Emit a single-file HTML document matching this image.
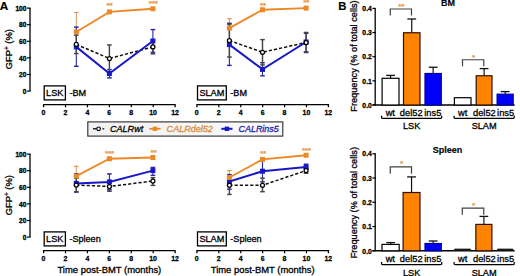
<!DOCTYPE html>
<html><head><meta charset="utf-8"><style>
html,body{margin:0;padding:0;background:#fff;overflow:hidden;width:520px;height:276px;}
svg{display:block;font-family:"Liberation Sans", sans-serif;}
</style></head><body>
<svg width="520" height="276" viewBox="0 0 520 276"  font-family='"Liberation Sans", sans-serif'>
<rect width="520" height="276" fill="#fff"/>
<text x="-0.3" y="10.1" font-size="11.8" font-weight="bold" font-style="normal" text-anchor="start" fill="#000"  stroke="#000" stroke-width="0.15">A</text>
<path d="M30,8.1 V91.1" stroke="#000" stroke-width="1.3" fill="none"/>
<line x1="27" y1="91.1" x2="30.6" y2="91.1" stroke="#000" stroke-width="1.2" />
<text transform="translate(26.4,93.85) scale(0.87,1)" font-size="7.6" font-weight="bold" text-anchor="end" fill="#000" stroke="#000" stroke-width="0.35">0</text>
<line x1="27" y1="74.5" x2="30.6" y2="74.5" stroke="#000" stroke-width="1.2" />
<text transform="translate(26.4,77.25) scale(0.87,1)" font-size="7.6" font-weight="bold" text-anchor="end" fill="#000" stroke="#000" stroke-width="0.35">20</text>
<line x1="27" y1="57.90" x2="30.6" y2="57.90" stroke="#000" stroke-width="1.2" />
<text transform="translate(26.4,60.65) scale(0.87,1)" font-size="7.6" font-weight="bold" text-anchor="end" fill="#000" stroke="#000" stroke-width="0.35">40</text>
<line x1="27" y1="41.3" x2="30.6" y2="41.3" stroke="#000" stroke-width="1.2" />
<text transform="translate(26.4,44.05) scale(0.87,1)" font-size="7.6" font-weight="bold" text-anchor="end" fill="#000" stroke="#000" stroke-width="0.35">60</text>
<line x1="27" y1="24.70" x2="30.6" y2="24.70" stroke="#000" stroke-width="1.2" />
<text transform="translate(26.4,27.45) scale(0.87,1)" font-size="7.6" font-weight="bold" text-anchor="end" fill="#000" stroke="#000" stroke-width="0.35">80</text>
<line x1="27" y1="8.10" x2="30.6" y2="8.10" stroke="#000" stroke-width="1.2" />
<text transform="translate(26.4,10.85) scale(0.87,1)" font-size="7.6" font-weight="bold" text-anchor="end" fill="#000" stroke="#000" stroke-width="0.35">100</text>
<text transform="translate(12.4,49.20) rotate(-90)" font-size="9.4" stroke="#000" stroke-width="0.3" text-anchor="middle">GFP<tspan font-size="6.5" dy="-3.4">+</tspan><tspan dy="3.4"> (%)</tspan></text>
<path d="M30,154.1 V237.1" stroke="#000" stroke-width="1.3" fill="none"/>
<line x1="27" y1="237.1" x2="30.6" y2="237.1" stroke="#000" stroke-width="1.2" />
<text transform="translate(26.4,239.85) scale(0.87,1)" font-size="7.6" font-weight="bold" text-anchor="end" fill="#000" stroke="#000" stroke-width="0.35">0</text>
<line x1="27" y1="220.5" x2="30.6" y2="220.5" stroke="#000" stroke-width="1.2" />
<text transform="translate(26.4,223.25) scale(0.87,1)" font-size="7.6" font-weight="bold" text-anchor="end" fill="#000" stroke="#000" stroke-width="0.35">20</text>
<line x1="27" y1="203.90" x2="30.6" y2="203.90" stroke="#000" stroke-width="1.2" />
<text transform="translate(26.4,206.65) scale(0.87,1)" font-size="7.6" font-weight="bold" text-anchor="end" fill="#000" stroke="#000" stroke-width="0.35">40</text>
<line x1="27" y1="187.3" x2="30.6" y2="187.3" stroke="#000" stroke-width="1.2" />
<text transform="translate(26.4,190.05) scale(0.87,1)" font-size="7.6" font-weight="bold" text-anchor="end" fill="#000" stroke="#000" stroke-width="0.35">60</text>
<line x1="27" y1="170.7" x2="30.6" y2="170.7" stroke="#000" stroke-width="1.2" />
<text transform="translate(26.4,173.45) scale(0.87,1)" font-size="7.6" font-weight="bold" text-anchor="end" fill="#000" stroke="#000" stroke-width="0.35">80</text>
<line x1="27" y1="154.1" x2="30.6" y2="154.1" stroke="#000" stroke-width="1.2" />
<text transform="translate(26.4,156.85) scale(0.87,1)" font-size="7.6" font-weight="bold" text-anchor="end" fill="#000" stroke="#000" stroke-width="0.35">100</text>
<text transform="translate(12.4,195.20) rotate(-90)" font-size="9.4" stroke="#000" stroke-width="0.3" text-anchor="middle">GFP<tspan font-size="6.5" dy="-3.4">+</tspan><tspan dy="3.4"> (%)</tspan></text>
<path d="M43.6,107.3 V104.7 H175.12 V107.3" stroke="#000" stroke-width="1.3" fill="none"/>
<line x1="65.52" y1="104.7" x2="65.52" y2="107.3" stroke="#000" stroke-width="1.2" />
<line x1="87.44" y1="104.7" x2="87.44" y2="107.3" stroke="#000" stroke-width="1.2" />
<line x1="109.36" y1="104.7" x2="109.36" y2="107.3" stroke="#000" stroke-width="1.2" />
<line x1="131.28" y1="104.7" x2="131.28" y2="107.3" stroke="#000" stroke-width="1.2" />
<line x1="153.20" y1="104.7" x2="153.20" y2="107.3" stroke="#000" stroke-width="1.2" />
<text transform="translate(43.50,114.90) scale(0.86,1)" font-size="8.1" font-weight="bold" text-anchor="middle" fill="#000" stroke="#000" stroke-width="0.3">0</text>
<text transform="translate(65.42,114.90) scale(0.86,1)" font-size="8.1" font-weight="bold" text-anchor="middle" fill="#000" stroke="#000" stroke-width="0.3">2</text>
<text transform="translate(87.34,114.90) scale(0.86,1)" font-size="8.1" font-weight="bold" text-anchor="middle" fill="#000" stroke="#000" stroke-width="0.3">4</text>
<text transform="translate(109.26,114.90) scale(0.86,1)" font-size="8.1" font-weight="bold" text-anchor="middle" fill="#000" stroke="#000" stroke-width="0.3">6</text>
<text transform="translate(131.18,114.90) scale(0.86,1)" font-size="8.1" font-weight="bold" text-anchor="middle" fill="#000" stroke="#000" stroke-width="0.3">8</text>
<text transform="translate(153.10,114.90) scale(0.86,1)" font-size="8.1" font-weight="bold" text-anchor="middle" fill="#000" stroke="#000" stroke-width="0.3">10</text>
<text transform="translate(175.02,114.90) scale(0.86,1)" font-size="8.1" font-weight="bold" text-anchor="middle" fill="#000" stroke="#000" stroke-width="0.3">12</text>
<path d="M196.9,107.3 V104.7 H328.42 V107.3" stroke="#000" stroke-width="1.3" fill="none"/>
<line x1="218.82" y1="104.7" x2="218.82" y2="107.3" stroke="#000" stroke-width="1.2" />
<line x1="240.74" y1="104.7" x2="240.74" y2="107.3" stroke="#000" stroke-width="1.2" />
<line x1="262.66" y1="104.7" x2="262.66" y2="107.3" stroke="#000" stroke-width="1.2" />
<line x1="284.58" y1="104.7" x2="284.58" y2="107.3" stroke="#000" stroke-width="1.2" />
<line x1="306.5" y1="104.7" x2="306.5" y2="107.3" stroke="#000" stroke-width="1.2" />
<text transform="translate(196.80,114.90) scale(0.86,1)" font-size="8.1" font-weight="bold" text-anchor="middle" fill="#000" stroke="#000" stroke-width="0.3">0</text>
<text transform="translate(218.72,114.90) scale(0.86,1)" font-size="8.1" font-weight="bold" text-anchor="middle" fill="#000" stroke="#000" stroke-width="0.3">2</text>
<text transform="translate(240.64,114.90) scale(0.86,1)" font-size="8.1" font-weight="bold" text-anchor="middle" fill="#000" stroke="#000" stroke-width="0.3">4</text>
<text transform="translate(262.56,114.90) scale(0.86,1)" font-size="8.1" font-weight="bold" text-anchor="middle" fill="#000" stroke="#000" stroke-width="0.3">6</text>
<text transform="translate(284.48,114.90) scale(0.86,1)" font-size="8.1" font-weight="bold" text-anchor="middle" fill="#000" stroke="#000" stroke-width="0.3">8</text>
<text transform="translate(306.40,114.90) scale(0.86,1)" font-size="8.1" font-weight="bold" text-anchor="middle" fill="#000" stroke="#000" stroke-width="0.3">10</text>
<text transform="translate(328.32,114.90) scale(0.86,1)" font-size="8.1" font-weight="bold" text-anchor="middle" fill="#000" stroke="#000" stroke-width="0.3">12</text>
<path d="M43.6,253.30 V250.7 H175.12 V253.30" stroke="#000" stroke-width="1.3" fill="none"/>
<line x1="65.52" y1="250.7" x2="65.52" y2="253.30" stroke="#000" stroke-width="1.2" />
<line x1="87.44" y1="250.7" x2="87.44" y2="253.30" stroke="#000" stroke-width="1.2" />
<line x1="109.36" y1="250.7" x2="109.36" y2="253.30" stroke="#000" stroke-width="1.2" />
<line x1="131.28" y1="250.7" x2="131.28" y2="253.30" stroke="#000" stroke-width="1.2" />
<line x1="153.20" y1="250.7" x2="153.20" y2="253.30" stroke="#000" stroke-width="1.2" />
<text transform="translate(43.50,260.90) scale(0.86,1)" font-size="8.1" font-weight="bold" text-anchor="middle" fill="#000" stroke="#000" stroke-width="0.3">0</text>
<text transform="translate(65.42,260.90) scale(0.86,1)" font-size="8.1" font-weight="bold" text-anchor="middle" fill="#000" stroke="#000" stroke-width="0.3">2</text>
<text transform="translate(87.34,260.90) scale(0.86,1)" font-size="8.1" font-weight="bold" text-anchor="middle" fill="#000" stroke="#000" stroke-width="0.3">4</text>
<text transform="translate(109.26,260.90) scale(0.86,1)" font-size="8.1" font-weight="bold" text-anchor="middle" fill="#000" stroke="#000" stroke-width="0.3">6</text>
<text transform="translate(131.18,260.90) scale(0.86,1)" font-size="8.1" font-weight="bold" text-anchor="middle" fill="#000" stroke="#000" stroke-width="0.3">8</text>
<text transform="translate(153.10,260.90) scale(0.86,1)" font-size="8.1" font-weight="bold" text-anchor="middle" fill="#000" stroke="#000" stroke-width="0.3">10</text>
<text transform="translate(175.02,260.90) scale(0.86,1)" font-size="8.1" font-weight="bold" text-anchor="middle" fill="#000" stroke="#000" stroke-width="0.3">12</text>
<text x="109.36" y="272.7" font-size="9.45" font-weight="normal" font-style="normal" text-anchor="middle" fill="#000"  stroke="#000" stroke-width="0.3">Time post-BMT (months)</text>
<path d="M196.9,253.30 V250.7 H328.42 V253.30" stroke="#000" stroke-width="1.3" fill="none"/>
<line x1="218.82" y1="250.7" x2="218.82" y2="253.30" stroke="#000" stroke-width="1.2" />
<line x1="240.74" y1="250.7" x2="240.74" y2="253.30" stroke="#000" stroke-width="1.2" />
<line x1="262.66" y1="250.7" x2="262.66" y2="253.30" stroke="#000" stroke-width="1.2" />
<line x1="284.58" y1="250.7" x2="284.58" y2="253.30" stroke="#000" stroke-width="1.2" />
<line x1="306.5" y1="250.7" x2="306.5" y2="253.30" stroke="#000" stroke-width="1.2" />
<text transform="translate(196.80,260.90) scale(0.86,1)" font-size="8.1" font-weight="bold" text-anchor="middle" fill="#000" stroke="#000" stroke-width="0.3">0</text>
<text transform="translate(218.72,260.90) scale(0.86,1)" font-size="8.1" font-weight="bold" text-anchor="middle" fill="#000" stroke="#000" stroke-width="0.3">2</text>
<text transform="translate(240.64,260.90) scale(0.86,1)" font-size="8.1" font-weight="bold" text-anchor="middle" fill="#000" stroke="#000" stroke-width="0.3">4</text>
<text transform="translate(262.56,260.90) scale(0.86,1)" font-size="8.1" font-weight="bold" text-anchor="middle" fill="#000" stroke="#000" stroke-width="0.3">6</text>
<text transform="translate(284.48,260.90) scale(0.86,1)" font-size="8.1" font-weight="bold" text-anchor="middle" fill="#000" stroke="#000" stroke-width="0.3">8</text>
<text transform="translate(306.40,260.90) scale(0.86,1)" font-size="8.1" font-weight="bold" text-anchor="middle" fill="#000" stroke="#000" stroke-width="0.3">10</text>
<text transform="translate(328.32,260.90) scale(0.86,1)" font-size="8.1" font-weight="bold" text-anchor="middle" fill="#000" stroke="#000" stroke-width="0.3">12</text>
<text x="262.66" y="272.7" font-size="9.45" font-weight="normal" font-style="normal" text-anchor="middle" fill="#000"  stroke="#000" stroke-width="0.3">Time post-BMT (months)</text>
<rect x="44.2" y="85.9" width="21.2" height="14" fill="#fff" stroke="#000" stroke-width="1.3"/>
<text x="54.80" y="96.4" font-size="9.2" font-weight="normal" font-style="normal" text-anchor="middle" fill="#000"  stroke="#000" stroke-width="0.3">LSK</text>
<text x="69.40" y="96.4" font-size="9.1" font-weight="normal" font-style="normal" text-anchor="start" fill="#000"  stroke="#000" stroke-width="0.3">-BM</text>
<rect x="197.5" y="85.9" width="28.8" height="14" fill="#fff" stroke="#000" stroke-width="1.3"/>
<text x="211.9" y="96.4" font-size="9.2" font-weight="normal" font-style="normal" text-anchor="middle" fill="#000"  stroke="#000" stroke-width="0.3">SLAM</text>
<text x="230.3" y="96.4" font-size="9.1" font-weight="normal" font-style="normal" text-anchor="start" fill="#000"  stroke="#000" stroke-width="0.3">-BM</text>
<rect x="44.2" y="231.9" width="21.2" height="14" fill="#fff" stroke="#000" stroke-width="1.3"/>
<text x="54.80" y="242.4" font-size="9.2" font-weight="normal" font-style="normal" text-anchor="middle" fill="#000"  stroke="#000" stroke-width="0.3">LSK</text>
<text x="69.40" y="242.4" font-size="9.1" font-weight="normal" font-style="normal" text-anchor="start" fill="#000"  stroke="#000" stroke-width="0.3">-Spleen</text>
<rect x="197.5" y="231.9" width="28.8" height="14" fill="#fff" stroke="#000" stroke-width="1.3"/>
<text x="211.9" y="242.4" font-size="9.2" font-weight="normal" font-style="normal" text-anchor="middle" fill="#000"  stroke="#000" stroke-width="0.3">SLAM</text>
<text x="230.3" y="242.4" font-size="9.1" font-weight="normal" font-style="normal" text-anchor="start" fill="#000"  stroke="#000" stroke-width="0.3">-Spleen</text>
<line x1="76.3" y1="12.5" x2="76.3" y2="31.9" stroke="#D99050" stroke-width="1.0" />
<line x1="74.0" y1="12.5" x2="78.6" y2="12.5" stroke="#D99050" stroke-width="1.1" />
<line x1="76.3" y1="26.9" x2="76.3" y2="66.5" stroke="#2828A8" stroke-width="1.1" />
<line x1="74.0" y1="27.10" x2="78.6" y2="27.10" stroke="#2828A8" stroke-width="1.45" />
<line x1="74.0" y1="66.3" x2="78.6" y2="66.3" stroke="#2828A8" stroke-width="1.45" />
<line x1="109.4" y1="69.4" x2="109.4" y2="78.1" stroke="#2828A8" stroke-width="1.1" />
<line x1="107.10" y1="69.60" x2="111.7" y2="69.60" stroke="#2828A8" stroke-width="1.45" />
<line x1="107.10" y1="77.90" x2="111.7" y2="77.90" stroke="#2828A8" stroke-width="1.45" />
<line x1="152.9" y1="29.4" x2="152.9" y2="52.6" stroke="#2828A8" stroke-width="1.1" />
<line x1="150.6" y1="29.60" x2="155.20" y2="29.60" stroke="#2828A8" stroke-width="1.45" />
<line x1="150.6" y1="52.4" x2="155.20" y2="52.4" stroke="#2828A8" stroke-width="1.45" />
<line x1="76.3" y1="35" x2="76.3" y2="53.75" stroke="#454545" stroke-width="1.45" />
<line x1="74.0" y1="35.2" x2="78.6" y2="35.2" stroke="#454545" stroke-width="1.45" />
<line x1="74.0" y1="53.55" x2="78.6" y2="53.55" stroke="#454545" stroke-width="1.45" />
<line x1="109.4" y1="44.75" x2="109.4" y2="72.25" stroke="#454545" stroke-width="1.45" />
<line x1="107.10" y1="44.95" x2="111.7" y2="44.95" stroke="#454545" stroke-width="1.45" />
<line x1="107.10" y1="72.05" x2="111.7" y2="72.05" stroke="#454545" stroke-width="1.45" />
<line x1="152.9" y1="39.7" x2="152.9" y2="54.1" stroke="#454545" stroke-width="1.45" />
<line x1="150.6" y1="39.90" x2="155.20" y2="39.90" stroke="#454545" stroke-width="1.45" />
<line x1="150.6" y1="53.9" x2="155.20" y2="53.9" stroke="#454545" stroke-width="1.45" />
<path d="M76.3,44.4 L109.4,58.5 L152.9,46.9" stroke="#111" stroke-width="1.5" stroke-dasharray="3.2,2" fill="none"/>
<path d="M76.3,46.9 L109.4,73.5 L152.9,41.0" stroke="#1818C4" stroke-width="2.0" fill="none"/>
<path d="M76.3,31.9 L109.4,11.9 L152.9,8.75" stroke="#EC8826" stroke-width="1.8" fill="none"/>
<rect x="73.8" y="44.4" width="5" height="5" fill="#1818C4"/>
<rect x="106.9" y="71.0" width="5" height="5" fill="#1818C4"/>
<rect x="150.4" y="38.5" width="5" height="5" fill="#1818C4"/>
<rect x="73.8" y="29.4" width="5" height="5" fill="#EC8826"/>
<rect x="106.9" y="9.4" width="5" height="5" fill="#EC8826"/>
<rect x="150.4" y="6.25" width="5" height="5" fill="#EC8826"/>
<circle cx="76.3" cy="44.4" r="2.0" fill="#fff" stroke="#000" stroke-width="1.25"/>
<circle cx="109.4" cy="58.5" r="2.0" fill="#fff" stroke="#000" stroke-width="1.25"/>
<circle cx="152.9" cy="46.9" r="2.0" fill="#fff" stroke="#000" stroke-width="1.25"/>
<text x="109.4" y="8.32" font-size="8.1" font-weight="bold" font-style="normal" text-anchor="middle" fill="#E59845" letter-spacing="-0.15" stroke="#E59845" stroke-width="0.15">**</text>
<text x="153.2" y="5.72" font-size="8.1" font-weight="bold" font-style="normal" text-anchor="middle" fill="#E59845" letter-spacing="-0.15" stroke="#E59845" stroke-width="0.15">***</text>
<line x1="229.4" y1="18.75" x2="229.4" y2="28.1" stroke="#D99050" stroke-width="1.0" />
<line x1="227.1" y1="18.75" x2="231.70" y2="18.75" stroke="#D99050" stroke-width="1.1" />
<line x1="229.4" y1="23.1" x2="229.4" y2="65.6" stroke="#2828A8" stroke-width="1.1" />
<line x1="227.1" y1="23.3" x2="231.70" y2="23.3" stroke="#2828A8" stroke-width="1.45" />
<line x1="227.1" y1="65.40" x2="231.70" y2="65.40" stroke="#2828A8" stroke-width="1.45" />
<line x1="262.5" y1="62.5" x2="262.5" y2="76" stroke="#2828A8" stroke-width="1.1" />
<line x1="260.2" y1="62.7" x2="264.8" y2="62.7" stroke="#2828A8" stroke-width="1.45" />
<line x1="260.2" y1="75.8" x2="264.8" y2="75.8" stroke="#2828A8" stroke-width="1.45" />
<line x1="306.1" y1="33" x2="306.1" y2="52" stroke="#2828A8" stroke-width="1.1" />
<line x1="303.8" y1="33.2" x2="308.40" y2="33.2" stroke="#2828A8" stroke-width="1.45" />
<line x1="303.8" y1="51.8" x2="308.40" y2="51.8" stroke="#2828A8" stroke-width="1.45" />
<line x1="229.4" y1="24" x2="229.4" y2="57.25" stroke="#454545" stroke-width="1.45" />
<line x1="227.1" y1="24.2" x2="231.70" y2="24.2" stroke="#454545" stroke-width="1.45" />
<line x1="227.1" y1="57.05" x2="231.70" y2="57.05" stroke="#454545" stroke-width="1.45" />
<line x1="262.5" y1="39.4" x2="262.5" y2="65.1" stroke="#454545" stroke-width="1.45" />
<line x1="260.2" y1="39.6" x2="264.8" y2="39.6" stroke="#454545" stroke-width="1.45" />
<line x1="260.2" y1="64.90" x2="264.8" y2="64.90" stroke="#454545" stroke-width="1.45" />
<line x1="306.1" y1="32.25" x2="306.1" y2="52.75" stroke="#454545" stroke-width="1.45" />
<line x1="303.8" y1="32.45" x2="308.40" y2="32.45" stroke="#454545" stroke-width="1.45" />
<line x1="303.8" y1="52.55" x2="308.40" y2="52.55" stroke="#454545" stroke-width="1.45" />
<path d="M229.4,40.6 L262.5,52.25 L306.1,42.5" stroke="#111" stroke-width="1.5" stroke-dasharray="3.2,2" fill="none"/>
<path d="M229.4,44.6 L262.5,69.4 L306.1,42.0" stroke="#1818C4" stroke-width="2.0" fill="none"/>
<path d="M229.4,28.1 L262.5,9.75 L306.1,8.1" stroke="#EC8826" stroke-width="1.8" fill="none"/>
<rect x="226.9" y="42.1" width="5" height="5" fill="#1818C4"/>
<rect x="260.0" y="66.9" width="5" height="5" fill="#1818C4"/>
<rect x="303.6" y="39.5" width="5" height="5" fill="#1818C4"/>
<rect x="226.9" y="25.6" width="5" height="5" fill="#EC8826"/>
<rect x="260.0" y="7.25" width="5" height="5" fill="#EC8826"/>
<rect x="303.6" y="5.6" width="5" height="5" fill="#EC8826"/>
<circle cx="229.4" cy="40.6" r="2.0" fill="#fff" stroke="#000" stroke-width="1.25"/>
<circle cx="262.5" cy="52.25" r="2.0" fill="#fff" stroke="#000" stroke-width="1.25"/>
<circle cx="306.1" cy="42.5" r="2.0" fill="#fff" stroke="#000" stroke-width="1.25"/>
<text x="262.9" y="7.62" font-size="8.1" font-weight="bold" font-style="normal" text-anchor="middle" fill="#E59845" letter-spacing="-0.15" stroke="#E59845" stroke-width="0.15">**</text>
<text x="306.2" y="4.97" font-size="8.1" font-weight="bold" font-style="normal" text-anchor="middle" fill="#E59845" letter-spacing="-0.15" stroke="#E59845" stroke-width="0.15">**</text>
<line x1="76.3" y1="166.25" x2="76.3" y2="176.1" stroke="#D99050" stroke-width="1.0" />
<line x1="74.0" y1="166.25" x2="78.6" y2="166.25" stroke="#D99050" stroke-width="1.1" />
<line x1="76.3" y1="173.5" x2="76.3" y2="192.25" stroke="#2828A8" stroke-width="1.1" />
<line x1="74.0" y1="173.7" x2="78.6" y2="173.7" stroke="#2828A8" stroke-width="1.45" />
<line x1="74.0" y1="192.05" x2="78.6" y2="192.05" stroke="#2828A8" stroke-width="1.45" />
<line x1="109.4" y1="173.75" x2="109.4" y2="190" stroke="#2828A8" stroke-width="1.1" />
<line x1="107.10" y1="173.95" x2="111.7" y2="173.95" stroke="#2828A8" stroke-width="1.45" />
<line x1="107.10" y1="189.8" x2="111.7" y2="189.8" stroke="#2828A8" stroke-width="1.45" />
<line x1="152.9" y1="167.25" x2="152.9" y2="175.6" stroke="#2828A8" stroke-width="1.1" />
<line x1="150.6" y1="167.45" x2="155.20" y2="167.45" stroke="#2828A8" stroke-width="1.45" />
<line x1="150.6" y1="175.4" x2="155.20" y2="175.4" stroke="#2828A8" stroke-width="1.45" />
<line x1="76.3" y1="178" x2="76.3" y2="192" stroke="#454545" stroke-width="1.45" />
<line x1="74.0" y1="178.2" x2="78.6" y2="178.2" stroke="#454545" stroke-width="1.45" />
<line x1="74.0" y1="191.8" x2="78.6" y2="191.8" stroke="#454545" stroke-width="1.45" />
<line x1="109.4" y1="181.5" x2="109.4" y2="191.5" stroke="#454545" stroke-width="1.45" />
<line x1="107.10" y1="181.7" x2="111.7" y2="181.7" stroke="#454545" stroke-width="1.45" />
<line x1="107.10" y1="191.3" x2="111.7" y2="191.3" stroke="#454545" stroke-width="1.45" />
<line x1="152.9" y1="177.5" x2="152.9" y2="185.6" stroke="#454545" stroke-width="1.45" />
<line x1="150.6" y1="177.7" x2="155.20" y2="177.7" stroke="#454545" stroke-width="1.45" />
<line x1="150.6" y1="185.4" x2="155.20" y2="185.4" stroke="#454545" stroke-width="1.45" />
<path d="M76.3,185 L109.4,186.5 L152.9,181" stroke="#111" stroke-width="1.5" stroke-dasharray="3.2,2" fill="none"/>
<path d="M76.3,183.4 L109.4,181.9 L152.9,170.6" stroke="#1818C4" stroke-width="2.0" fill="none"/>
<path d="M76.3,176.1 L109.4,158.75 L152.9,157.5" stroke="#EC8826" stroke-width="1.8" fill="none"/>
<rect x="73.8" y="180.9" width="5" height="5" fill="#1818C4"/>
<rect x="106.9" y="179.4" width="5" height="5" fill="#1818C4"/>
<rect x="150.4" y="168.1" width="5" height="5" fill="#1818C4"/>
<rect x="73.8" y="173.6" width="5" height="5" fill="#EC8826"/>
<rect x="106.9" y="156.25" width="5" height="5" fill="#EC8826"/>
<rect x="150.4" y="155.0" width="5" height="5" fill="#EC8826"/>
<circle cx="76.3" cy="185" r="2.0" fill="#fff" stroke="#000" stroke-width="1.25"/>
<circle cx="109.4" cy="186.5" r="2.0" fill="#fff" stroke="#000" stroke-width="1.25"/>
<circle cx="152.9" cy="181" r="2.0" fill="#fff" stroke="#000" stroke-width="1.25"/>
<text x="109.5" y="156.42" font-size="8.1" font-weight="bold" font-style="normal" text-anchor="middle" fill="#E59845" letter-spacing="-0.15" stroke="#E59845" stroke-width="0.15">***</text>
<text x="153.5" y="154.97" font-size="8.1" font-weight="bold" font-style="normal" text-anchor="middle" fill="#E59845" letter-spacing="-0.15" stroke="#E59845" stroke-width="0.15">**</text>
<line x1="229.4" y1="170.6" x2="229.4" y2="177.5" stroke="#D99050" stroke-width="1.0" />
<line x1="227.1" y1="170.6" x2="231.70" y2="170.6" stroke="#D99050" stroke-width="1.1" />
<line x1="229.4" y1="174.4" x2="229.4" y2="189.4" stroke="#2828A8" stroke-width="1.1" />
<line x1="227.1" y1="174.6" x2="231.70" y2="174.6" stroke="#2828A8" stroke-width="1.45" />
<line x1="227.1" y1="189.20" x2="231.70" y2="189.20" stroke="#2828A8" stroke-width="1.45" />
<line x1="262.5" y1="160" x2="262.5" y2="182" stroke="#2828A8" stroke-width="1.1" />
<line x1="260.2" y1="160.2" x2="264.8" y2="160.2" stroke="#2828A8" stroke-width="1.45" />
<line x1="260.2" y1="181.8" x2="264.8" y2="181.8" stroke="#2828A8" stroke-width="1.45" />
<line x1="306.1" y1="164" x2="306.1" y2="168.5" stroke="#2828A8" stroke-width="1.1" />
<line x1="303.8" y1="164.2" x2="308.40" y2="164.2" stroke="#2828A8" stroke-width="1.45" />
<line x1="303.8" y1="168.3" x2="308.40" y2="168.3" stroke="#2828A8" stroke-width="1.45" />
<line x1="229.4" y1="176.6" x2="229.4" y2="194.6" stroke="#454545" stroke-width="1.45" />
<line x1="227.1" y1="176.80" x2="231.70" y2="176.80" stroke="#454545" stroke-width="1.45" />
<line x1="227.1" y1="194.4" x2="231.70" y2="194.4" stroke="#454545" stroke-width="1.45" />
<line x1="262.5" y1="177.9" x2="262.5" y2="191.9" stroke="#454545" stroke-width="1.45" />
<line x1="260.2" y1="178.1" x2="264.8" y2="178.1" stroke="#454545" stroke-width="1.45" />
<line x1="260.2" y1="191.70" x2="264.8" y2="191.70" stroke="#454545" stroke-width="1.45" />
<line x1="306.1" y1="168.5" x2="306.1" y2="173.5" stroke="#454545" stroke-width="1.45" />
<line x1="303.8" y1="168.7" x2="308.40" y2="168.7" stroke="#454545" stroke-width="1.45" />
<line x1="303.8" y1="173.3" x2="308.40" y2="173.3" stroke="#454545" stroke-width="1.45" />
<path d="M229.4,185.3 L262.5,185.25 L306.1,170.6" stroke="#111" stroke-width="1.5" stroke-dasharray="3.2,2" fill="none"/>
<path d="M229.4,181.5 L262.5,171.2 L306.1,167.0" stroke="#1818C4" stroke-width="2.0" fill="none"/>
<path d="M229.4,177.5 L262.5,159.4 L306.1,155.25" stroke="#EC8826" stroke-width="1.8" fill="none"/>
<rect x="226.9" y="179.0" width="5" height="5" fill="#1818C4"/>
<rect x="260.0" y="168.7" width="5" height="5" fill="#1818C4"/>
<rect x="303.6" y="164.5" width="5" height="5" fill="#1818C4"/>
<rect x="226.9" y="175.0" width="5" height="5" fill="#EC8826"/>
<rect x="260.0" y="156.9" width="5" height="5" fill="#EC8826"/>
<rect x="303.6" y="152.75" width="5" height="5" fill="#EC8826"/>
<circle cx="229.4" cy="185.3" r="2.0" fill="#fff" stroke="#000" stroke-width="1.25"/>
<circle cx="262.5" cy="185.25" r="2.0" fill="#fff" stroke="#000" stroke-width="1.25"/>
<circle cx="306.1" cy="170.6" r="2.0" fill="#fff" stroke="#000" stroke-width="1.25"/>
<text x="263.10" y="155.97" font-size="8.1" font-weight="bold" font-style="normal" text-anchor="middle" fill="#E59845" letter-spacing="-0.15" stroke="#E59845" stroke-width="0.15">**</text>
<text x="306.60" y="152.52" font-size="8.1" font-weight="bold" font-style="normal" text-anchor="middle" fill="#E59845" letter-spacing="-0.15" stroke="#E59845" stroke-width="0.15">***</text>
<defs><linearGradient id="lg" x1="0" x2="1" y1="0" y2="0"><stop offset="0" stop-color="#f1f1f1"/><stop offset="1" stop-color="#fafafa"/></linearGradient></defs>
<rect x="87.8" y="121.9" width="195" height="14.2" fill="url(#lg)" stroke="#333" stroke-width="1.15"/>
<line x1="93.0" y1="128.8" x2="96.6" y2="128.8" stroke="#111" stroke-width="1.4" />
<line x1="102.6" y1="128.8" x2="104.2" y2="128.8" stroke="#111" stroke-width="1.4" />
<circle cx="98.6" cy="128.8" r="1.8" fill="#fff" stroke="#000" stroke-width="1.2"/>
<text x="110" y="132.2" font-size="9.05" font-weight="normal" font-style="italic" text-anchor="start" fill="#000"  stroke="#000" stroke-width="0.3">CALRwt</text>
<path d="M149.4,128.8 L160.6,128.8" stroke="#EC8826" stroke-width="1.8" fill="none"/>
<rect x="152.8" y="126.60" width="4.4" height="4.4" fill="#EC8826"/>
<text x="166.6" y="132.2" font-size="9.05" font-weight="normal" font-style="italic" text-anchor="start" fill="#DC8A36"  stroke="#DC8A36" stroke-width="0.3">CALRdel52</text>
<path d="M221.3,128.8 L232.5,128.8" stroke="#1818C4" stroke-width="2.0" fill="none"/>
<rect x="224.70" y="126.60" width="4.4" height="4.4" fill="#1818C4"/>
<text x="238.5" y="132.2" font-size="8.95" font-weight="normal" font-style="italic" text-anchor="start" fill="#2222AA"  stroke="#2222AA" stroke-width="0.3">CALRins5</text>
<text x="338.3" y="10.1" font-size="11.3" font-weight="bold" font-style="normal" text-anchor="start" fill="#000"  stroke="#000" stroke-width="0.15">B</text>
<path d="M375.2,8.40 V105.0" stroke="#000" stroke-width="1.3" fill="none"/>
<path d="M372.4,105.0 H514.6" stroke="#000" stroke-width="1.4" fill="none"/>
<line x1="372.4" y1="105.0" x2="375.8" y2="105.0" stroke="#000" stroke-width="1.2" />
<text transform="translate(371.8,107.70) scale(0.88,1)" font-size="7.7" font-weight="bold" text-anchor="end" fill="#000" stroke="#000" stroke-width="0.3">0.0</text>
<line x1="372.4" y1="80.85" x2="375.8" y2="80.85" stroke="#000" stroke-width="1.2" />
<text transform="translate(371.8,83.55) scale(0.88,1)" font-size="7.7" font-weight="bold" text-anchor="end" fill="#000" stroke="#000" stroke-width="0.3">0.1</text>
<line x1="372.4" y1="56.70" x2="375.8" y2="56.70" stroke="#000" stroke-width="1.2" />
<text transform="translate(371.8,59.40) scale(0.88,1)" font-size="7.7" font-weight="bold" text-anchor="end" fill="#000" stroke="#000" stroke-width="0.3">0.2</text>
<line x1="372.4" y1="32.55" x2="375.8" y2="32.55" stroke="#000" stroke-width="1.2" />
<text transform="translate(371.8,35.25) scale(0.88,1)" font-size="7.7" font-weight="bold" text-anchor="end" fill="#000" stroke="#000" stroke-width="0.3">0.3</text>
<line x1="372.4" y1="8.40" x2="375.8" y2="8.40" stroke="#000" stroke-width="1.2" />
<text transform="translate(371.8,11.10) scale(0.88,1)" font-size="7.7" font-weight="bold" text-anchor="end" fill="#000" stroke="#000" stroke-width="0.3">0.4</text>
<line x1="390.55" y1="75.4" x2="390.55" y2="78.3" stroke="#111" stroke-width="1.2" />
<line x1="386.15" y1="75.4" x2="394.95" y2="75.4" stroke="#111" stroke-width="1.3" />
<rect x="382.1" y="78.3" width="16.90" height="26.70" fill="#fff" stroke="#000" stroke-width="1.2"/>
<line x1="411.75" y1="19" x2="411.75" y2="32.75" stroke="#111" stroke-width="1.2" />
<line x1="407.35" y1="19" x2="416.15" y2="19" stroke="#111" stroke-width="1.3" />
<rect x="403.5" y="32.75" width="16.50" height="72.25" fill="#FF8300" stroke="#301000" stroke-width="1.2"/>
<line x1="433.15" y1="67.25" x2="433.15" y2="73.5" stroke="#111" stroke-width="1.2" />
<line x1="428.75" y1="67.25" x2="437.55" y2="67.25" stroke="#111" stroke-width="1.3" />
<rect x="425.0" y="73.5" width="16.3" height="31.5" fill="#0000F8" stroke="#0000a0" stroke-width="1.2"/>
<rect x="454.40" y="97.7" width="16.60" height="7.30" fill="#fff" stroke="#000" stroke-width="1.2"/>
<line x1="484.1" y1="68.6" x2="484.1" y2="75.75" stroke="#111" stroke-width="1.2" />
<line x1="479.70" y1="68.6" x2="488.5" y2="68.6" stroke="#111" stroke-width="1.3" />
<rect x="476.20" y="75.75" width="15.8" height="29.25" fill="#FF8300" stroke="#301000" stroke-width="1.2"/>
<line x1="505.15" y1="91.6" x2="505.15" y2="94.2" stroke="#111" stroke-width="1.2" />
<line x1="500.75" y1="91.6" x2="509.55" y2="91.6" stroke="#111" stroke-width="1.3" />
<rect x="497.1" y="94.2" width="16.10" height="10.80" fill="#0000F8" stroke="#0000a0" stroke-width="1.2"/>
<path d="M390.25,15.6 V9.0 H411.5 V15.6" stroke="#404040" stroke-width="1.2" fill="none"/>
<text x="401.3" y="8.87" font-size="8.1" font-weight="bold" font-style="normal" text-anchor="middle" fill="#E59845" letter-spacing="-0.15" stroke="#E59845" stroke-width="0.15">**</text>
<path d="M462.5,66.25 V59.75 H483.75 V66.25" stroke="#404040" stroke-width="1.2" fill="none"/>
<text x="473.60" y="59.57" font-size="8.1" font-weight="bold" font-style="normal" text-anchor="middle" fill="#E59845" letter-spacing="-0.15" stroke="#E59845" stroke-width="0.15">*</text>
<text x="390.3" y="115.9" font-size="9.3" font-weight="normal" font-style="normal" text-anchor="middle" fill="#000"  stroke="#000" stroke-width="0.3">wt</text>
<text x="411.2" y="115.9" font-size="9.3" font-weight="normal" font-style="normal" text-anchor="middle" fill="#000"  stroke="#000" stroke-width="0.3">del52</text>
<text x="432.8" y="115.9" font-size="9.3" font-weight="normal" font-style="normal" text-anchor="middle" fill="#000"  stroke="#000" stroke-width="0.3">ins5</text>
<text x="462.6" y="115.9" font-size="9.3" font-weight="normal" font-style="normal" text-anchor="middle" fill="#000"  stroke="#000" stroke-width="0.3">wt</text>
<text x="484.4" y="115.9" font-size="9.3" font-weight="normal" font-style="normal" text-anchor="middle" fill="#000"  stroke="#000" stroke-width="0.3">del52</text>
<text x="505.6" y="115.9" font-size="9.3" font-weight="normal" font-style="normal" text-anchor="middle" fill="#000"  stroke="#000" stroke-width="0.3">ins5</text>
<path d="M381.6,115.7 V117.5 Q381.6,118.3 382.40,118.3 H440.9 Q441.7,118.3 441.7,117.5 V115.7" stroke="#000" stroke-width="1.25" fill="none"/>
<text x="411.65" y="129.4" font-size="9.2" font-weight="normal" font-style="normal" text-anchor="middle" fill="#000"  stroke="#000" stroke-width="0.3">LSK</text>
<path d="M454.1,115.7 V117.5 Q454.1,118.3 454.90,118.3 H513.40 Q514.2,118.3 514.2,117.5 V115.7" stroke="#000" stroke-width="1.25" fill="none"/>
<text x="484.15" y="129.4" font-size="9.2" font-weight="normal" font-style="normal" text-anchor="middle" fill="#000"  stroke="#000" stroke-width="0.3">SLAM</text>
<text x="447.9" y="6.2" font-size="9" font-weight="bold" font-style="normal" text-anchor="middle" fill="#000"  stroke="#000" stroke-width="0.15">BM</text>
<text transform="translate(357.3,56.0) rotate(-90)" font-size="9.2" stroke="#000" stroke-width="0.3" text-anchor="middle">Frequency (% of total cells)</text>
<path d="M375.2,153.76 V250.8" stroke="#000" stroke-width="1.3" fill="none"/>
<path d="M372.4,250.8 H514.6" stroke="#000" stroke-width="1.4" fill="none"/>
<line x1="372.4" y1="250.8" x2="375.8" y2="250.8" stroke="#000" stroke-width="1.2" />
<text transform="translate(371.8,253.50) scale(0.88,1)" font-size="7.7" font-weight="bold" text-anchor="end" fill="#000" stroke="#000" stroke-width="0.3">0.0</text>
<line x1="372.4" y1="226.54" x2="375.8" y2="226.54" stroke="#000" stroke-width="1.2" />
<text transform="translate(371.8,229.24) scale(0.88,1)" font-size="7.7" font-weight="bold" text-anchor="end" fill="#000" stroke="#000" stroke-width="0.3">0.1</text>
<line x1="372.4" y1="202.28" x2="375.8" y2="202.28" stroke="#000" stroke-width="1.2" />
<text transform="translate(371.8,204.98) scale(0.88,1)" font-size="7.7" font-weight="bold" text-anchor="end" fill="#000" stroke="#000" stroke-width="0.3">0.2</text>
<line x1="372.4" y1="178.02" x2="375.8" y2="178.02" stroke="#000" stroke-width="1.2" />
<text transform="translate(371.8,180.72) scale(0.88,1)" font-size="7.7" font-weight="bold" text-anchor="end" fill="#000" stroke="#000" stroke-width="0.3">0.3</text>
<line x1="372.4" y1="153.76" x2="375.8" y2="153.76" stroke="#000" stroke-width="1.2" />
<text transform="translate(371.8,156.46) scale(0.88,1)" font-size="7.7" font-weight="bold" text-anchor="end" fill="#000" stroke="#000" stroke-width="0.3">0.4</text>
<line x1="390.6" y1="242.6" x2="390.6" y2="244.4" stroke="#111" stroke-width="1.2" />
<line x1="386.20" y1="242.6" x2="395.0" y2="242.6" stroke="#111" stroke-width="1.3" />
<rect x="382.0" y="244.4" width="17.20" height="6.40" fill="#fff" stroke="#000" stroke-width="1.2"/>
<line x1="411.55" y1="176.9" x2="411.55" y2="192.5" stroke="#111" stroke-width="1.2" />
<line x1="407.15" y1="176.9" x2="415.95" y2="176.9" stroke="#111" stroke-width="1.3" />
<rect x="403.1" y="192.5" width="16.90" height="58.30" fill="#FF8300" stroke="#301000" stroke-width="1.2"/>
<line x1="433.15" y1="241" x2="433.15" y2="243.5" stroke="#111" stroke-width="1.2" />
<line x1="428.75" y1="241" x2="437.55" y2="241" stroke="#111" stroke-width="1.3" />
<rect x="425.0" y="243.5" width="16.3" height="7.30" fill="#0000F8" stroke="#0000a0" stroke-width="1.2"/>
<path d="M453.6,250.5 L454.8,248.9 H470.3 L471.5,250.5Z" fill="#1a1a1a" stroke="#1a1a1a" stroke-width="0.6"/>
<line x1="483.88" y1="216.4" x2="483.88" y2="224.4" stroke="#111" stroke-width="1.2" />
<line x1="479.48" y1="216.4" x2="488.27" y2="216.4" stroke="#111" stroke-width="1.3" />
<rect x="475.85" y="224.4" width="16.05" height="26.40" fill="#FF8300" stroke="#301000" stroke-width="1.2"/>
<path d="M496.6,250.5 L497.8,248.9 H512.7 L513.90,250.5Z" fill="#1a1a1a" stroke="#1a1a1a" stroke-width="0.6"/>
<path d="M390.25,173.75 V166.9 H411.5 V173.75" stroke="#404040" stroke-width="1.2" fill="none"/>
<text x="401.45" y="166.22" font-size="8.1" font-weight="bold" font-style="normal" text-anchor="middle" fill="#E59845" letter-spacing="-0.15" stroke="#E59845" stroke-width="0.15">*</text>
<path d="M462.25,214.75 V208.1 H483.75 V214.75" stroke="#404040" stroke-width="1.2" fill="none"/>
<text x="473.60" y="207.97" font-size="8.1" font-weight="bold" font-style="normal" text-anchor="middle" fill="#E59845" letter-spacing="-0.15" stroke="#E59845" stroke-width="0.15">*</text>
<text x="390.3" y="261.8" font-size="9.3" font-weight="normal" font-style="normal" text-anchor="middle" fill="#000"  stroke="#000" stroke-width="0.3">wt</text>
<text x="411.2" y="261.8" font-size="9.3" font-weight="normal" font-style="normal" text-anchor="middle" fill="#000"  stroke="#000" stroke-width="0.3">del52</text>
<text x="432.8" y="261.8" font-size="9.3" font-weight="normal" font-style="normal" text-anchor="middle" fill="#000"  stroke="#000" stroke-width="0.3">ins5</text>
<text x="462.6" y="261.8" font-size="9.3" font-weight="normal" font-style="normal" text-anchor="middle" fill="#000"  stroke="#000" stroke-width="0.3">wt</text>
<text x="484.4" y="261.8" font-size="9.3" font-weight="normal" font-style="normal" text-anchor="middle" fill="#000"  stroke="#000" stroke-width="0.3">del52</text>
<text x="505.6" y="261.8" font-size="9.3" font-weight="normal" font-style="normal" text-anchor="middle" fill="#000"  stroke="#000" stroke-width="0.3">ins5</text>
<path d="M381.6,262.0 V263.8 Q381.6,264.6 382.40,264.6 H440.9 Q441.7,264.6 441.7,263.8 V262.0" stroke="#000" stroke-width="1.25" fill="none"/>
<text x="411.65" y="275.6" font-size="9.2" font-weight="normal" font-style="normal" text-anchor="middle" fill="#000"  stroke="#000" stroke-width="0.3">LSK</text>
<path d="M454.1,262.0 V263.8 Q454.1,264.6 454.90,264.6 H513.40 Q514.2,264.6 514.2,263.8 V262.0" stroke="#000" stroke-width="1.25" fill="none"/>
<text x="484.15" y="275.6" font-size="9.2" font-weight="normal" font-style="normal" text-anchor="middle" fill="#000"  stroke="#000" stroke-width="0.3">SLAM</text>
<text x="447.5" y="152.5" font-size="9" font-weight="bold" font-style="normal" text-anchor="middle" fill="#000"  stroke="#000" stroke-width="0.15">Spleen</text>
<text transform="translate(357.3,202.7) rotate(-90)" font-size="9.2" stroke="#000" stroke-width="0.3" text-anchor="middle">Frequency (% of total cells)</text>
</svg>
</body></html>
